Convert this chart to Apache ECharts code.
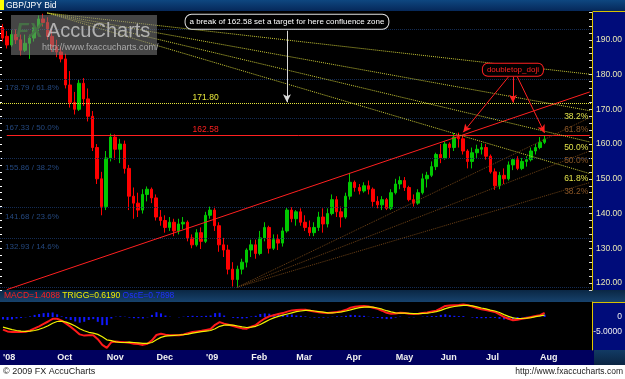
<!DOCTYPE html>
<html>
<head>
<meta charset="utf-8">
<title>GBP/JPY Bid</title>
<script src="https://cdn.jsdelivr.net/npm/echarts@6/dist/echarts.min.js"></script>
<style>
    html, body { margin: 0; padding: 0; background: #000; }
    #main { width: 625px; height: 379px; }
</style>
</head>
<body>
<div id="main"></div>
<script type="text/javascript">
// two-day candles, [open, close, low, high]
var candles = [
    [193.5,190.5,189.5,194.5],[191,188.5,187.5,192.5],[188.5,191.5,188,192.8],[191.5,190,188.8,193],[190,187,185.5,191.5],
    [187,189,186.5,191.5],[189,190.5,184.5,191.5],[190.5,193.5,189.5,194.5],[193.5,196,192.5,197],[196,195,193.8,197.5],
    [195,191,190,196.5],[191,188,186.5,193],[188,186.5,185,190],[186.5,184.5,183.5,188],[184.5,177,176,186],
    [177,172,170.5,181],[172,170,168.5,175],[170,177.5,169.5,178.5],[177.5,173,171,179],[173,168,166.5,176],
    [168,159,158,169.5],[159,150,148.5,160],[150,142,139.5,152],[142,156,141,158],[156,162,155,163],
    [162,158.5,155.5,162.8],[158.5,160,154.5,161.5],[160,153,151.5,161],[153,145,141,154],[145,143,138.5,147.5],
    [143,141,139,146],[141,145.5,140,147],[145.5,147,143.5,147.8],[147,144.5,143,147.5],[144.5,139,138,145.5],
    [139,138,136.5,141],[138,136,134.5,139.5],[136,137.5,135,139],[137.5,135,133.5,138.5],[135,137,134,138.5],
    [137,137.5,135.5,139],[137.5,133,132,138],[133,131,130,134],[131,134.5,130.5,135.5],[134.5,132,129.8,136],
    [132,139.5,131.5,140.5],[139.5,141,138.5,142],[141,136.5,135,142],[136.5,131,129,137.5],[131,129.5,127.5,133],
    [129.5,124,122.5,131],[124,121,119,126],[121,124,118.8,125],[124,126,122.5,127],[126,129.5,124.5,130],
    [129.5,131,127.5,132.5],[131,128.5,127,132.5],[128.5,133,128,135],[133,136,132,137.5],[136,130,128.5,136.5],
    [130,132.5,129.5,134],[132.5,131.5,129.5,134],[131.5,135,130.5,136],[135,141,134.5,141.7],[141,138.5,137.5,141.8],
    [138.5,140.5,136.5,141],[140.5,137.5,136.5,141.5],[137.5,136,135,139.5],[136,134.5,133.5,138],[134.5,136,133.5,137.5],
    [136,139,135,140.5],[139,137,134.5,141.5],[137,140,136,141.5],[140,144,139.5,145.5],[144,140.5,139,145],
    [140.5,139,136,142],[139,145,138.5,146],[145,149,144,151.7],[149,147.5,146.3,149.5],[147.5,146.5,145.5,148.5],
    [146.5,148,146,149],[148,147,145.5,149.5],[147,143.5,142,147.5],[143.5,142.5,141.5,145],[142.5,144,141,145],
    [144,141.5,141,144.5],[141.5,146,141,147],[146,148.5,145.5,150],[148.5,149.5,147,150.7],[149.5,147.5,146.5,150.5],
    [147.5,144,143.5,148],[144,143,142,145.5],[143,146,142.5,147],[146,150,145.5,151.5],[150,151,147.5,152],
    [151,153.5,150.5,155],[153.5,157,152.5,157.5],[157,156,154.5,160],[156,160,155.5,160.7],[160,159,156,160.5],
    [159,162,158,163.2],[162,161.5,159,163.3],[161.5,158,157,162.5],[158,155,153,158.5],[155,157.5,153,159],
    [157.5,158.5,156,159.8],[158.5,159,157,160.3],[159,156.5,155.5,160],[156.5,152,151.5,157],[152,148,146.8,153],
    [148,151,147,152],[151,150,148.5,153],[150,154,149.5,155],[154,155.5,152.5,156],[155.5,153,152.5,156.5],
    [153,155,152.5,156],[155,155.5,153.5,156.5],[155.5,158,155,159],[158,159,157,160],[159,160.5,158.5,162],
    [160.5,161.4,160,162.6]
];

var macd = [
    -4.2,-4.8,-5.0,-5.0,-5.0,-4.9,-4.5,-3.8,-3.1,-2.3,
    -1.5,-0.6,-0.6,-1.2,-2.2,-3.3,-4.5,-5.8,-6.2,-6.1,
    -6.1,-7.4,-9.3,-10.3,-8.4,-8.2,-8.3,-8.4,-8.6,-8.9,
    -9.0,-9.3,-8.9,-7.8,-6.0,-5.6,-5.9,-6.1,-6.1,-6.1,
    -5.8,-5.4,-5.0,-4.8,-4.6,-4.3,-4.0,-2.6,-1.7,-2.2,
    -2.6,-3.0,-3.4,-3.8,-3.9,-3.2,-2.7,-1.5,-0.5,0.2,
    0.6,1.0,1.3,1.8,2.2,2.3,2.4,2.4,2.1,1.8,
    1.6,1.4,1.3,1.5,1.7,1.9,2.4,3.1,3.4,3.6,
    3.7,3.5,3.1,2.7,2.1,1.4,1.1,1.2,1.4,1.3,
    1.1,1.0,1.1,1.3,1.5,1.8,2.1,2.9,3.7,3.8,
    3.9,4.0,4.2,3.9,3.5,3.0,2.6,2.3,2.0,1.7,
    0.9,0.0,-0.6,-1.1,-0.9,-0.6,-0.3,0.0,0.3,0.6,
    1.4
];

var trigg = [
    -3.4,-3.8,-4.2,-4.5,-4.7,-4.8,-4.7,-4.5,-4.1,-3.6,
    -2.9,-2.1,-1.5,-1.4,-1.7,-2.3,-3.0,-3.9,-4.6,-5.1,
    -5.4,-5.8,-6.6,-7.6,-7.9,-8.3,-8.5,-8.5,-8.4,-8.5,
    -8.6,-8.8,-8.8,-8.5,-7.6,-6.8,-6.4,-6.2,-6.1,-6.0,
    -5.9,-5.7,-5.4,-5.1,-4.9,-4.7,-4.5,-3.9,-3.1,-2.7,
    -2.6,-2.7,-3.0,-3.3,-3.5,-3.4,-3.1,-2.5,-1.7,-0.9,
    -0.3,0.2,0.6,1.0,1.4,1.8,2.0,2.2,2.2,2.0,
    1.8,1.6,1.4,1.4,1.5,1.7,2.0,2.4,2.8,3.1,
    3.3,3.4,3.3,3.0,2.6,2.1,1.7,1.4,1.3,1.3,
    1.2,1.1,1.1,1.2,1.3,1.5,1.8,2.2,2.8,3.2,
    3.5,3.7,3.9,3.9,3.7,3.4,3.0,2.7,2.3,2.0,
    1.5,0.8,0.2,-0.3,-0.5,-0.5,-0.4,-0.2,0.1,0.4,
    0.6
];

var oscE = [
    -0.8,-1.0,-0.8,-0.5,-0.3,-0.1,0.2,0.7,1.0,1.3,
    1.4,1.5,0.9,0.2,-0.5,-1.0,-1.5,-1.9,-1.6,-1.0,
    -0.7,-1.6,-2.7,-2.7,-0.5,0.1,0.2,0.1,-0.2,-0.4,
    -0.4,-0.5,-0.1,0.7,1.6,1.2,0.5,0.1,0.0,-0.1,
    0.1,0.3,0.4,0.3,0.3,0.4,0.5,1.3,1.4,0.5,
    0.0,-0.3,-0.4,-0.5,-0.4,0.2,0.4,1.0,1.2,1.1,
    0.9,0.8,0.7,0.8,0.8,0.5,0.4,0.2,-0.1,-0.2,
    -0.2,-0.2,-0.1,0.1,0.2,0.2,0.4,0.7,0.6,0.5,
    0.4,0.1,-0.2,-0.3,-0.5,-0.7,-0.6,-0.2,0.1,0.0,
    -0.1,-0.1,0.0,0.1,0.2,0.3,0.3,0.7,0.9,0.6,
    0.4,0.3,0.3,0.0,-0.2,-0.4,-0.4,-0.4,-0.3,-0.3,
    -0.6,-0.8,-0.8,-0.8,-0.4,-0.1,0.1,0.2,0.2,0.2,
    0.8
];

var monthIdx = [0, 12, 23, 34, 45, 55, 65, 76, 87, 97, 107, 119];
var monthLabels = ["'08", 'Oct', 'Nov', 'Dec', "'09", 'Feb', 'Mar', 'Apr', 'May', 'Jun', 'Jul', 'Aug'];
var priceTicks = [120, 130, 140, 150, 160, 170, 180, 190];
var macdTicks = [0, -5];

// fibonacci retracement of the 118.80 low
var fibLevels = [118.8, 132.93, 141.68, 155.86, 167.33, 178.79, 193.0];
var fibNames = ['', '14.6%', '23.6%', '38.2%', '50.0%', '61.8%', ''];

var lastPrice = 161.40;
var slotCount = 131;

var slots = [];
for (var i = 0; i < slotCount; i++) slots.push(String(i));
var minorTicks = [];
for (var t = 118; t <= 198; t += 2) minorTicks.push(t);

var FONT = 'Liberation Sans, Arial, sans-serif';

function seg(a, b, color, type, arrow) {
    return [
        {coord: a, symbol: 'none', lineStyle: {color: color, type: type, width: 1}},
        {coord: b, symbol: arrow ? 'arrow' : 'none', symbolSize: arrow ? [6, 8] : 0}
    ];
}

function note(coord, text, color, extra) {
    var label = {show: true, formatter: text, color: color, fontSize: 8.5, position: 'inside'};
    for (var k in extra) label[k] = extra[k];
    return {coord: coord, symbolSize: 0, label: label};
}

var YEL = '#c8c836', BRN = '#6e4216', RED = '#ff2020', FIB = '#142c55';

var lines = [];
fibLevels.forEach(function (v, i) {
    lines.push({
        yAxis: v,
        lineStyle: {color: FIB, type: 'dotted', width: 1},
        label: {
            show: fibNames[i] !== '', position: 'insideStartBottom', color: '#24487f', fontSize: 8,
            formatter: v.toFixed(2) + ' / ' + fibNames[i]
        }
    });
});
lines.push({yAxis: 171.80, lineStyle: {color: '#e8e83c', type: 'dotted', width: 1}});
lines.push(seg([1, 162.58], [130, 162.58], RED, 'solid'));
lines.push(seg([1, 118.1], [130, 175.0], RED, 'solid'));
// fan from the September top
[180.1, 169.6, 160.6, 151.5].forEach(function (p) {
    lines.push(seg([10, 197.7], [130, p], YEL, 'dotted'));
});
// fan from the January low
[167.6, 158.0, 148.9].forEach(function (p) {
    lines.push(seg([52, 118.8], [130, p], BRN, 'dotted'));
});
// annotation arrows
lines.push(seg([63, 192.6], [63, 172.0], '#d8d8d8', 'solid', true));
lines.push(seg([112, 179.3], [102, 163.4], RED, 'solid', true));
lines.push(seg([113, 179.3], [113, 171.9], RED, 'solid', true));
lines.push(seg([114, 179.3], [120, 163.2], RED, 'solid', true));
lines.push({
    yAxis: lastPrice,
    lineStyle: {opacity: 0},
    label: {
        show: true, position: 'end', distance: 2, formatter: '161.40',
        backgroundColor: '#ffff00', color: '#000050', fontSize: 8.5, padding: [1, 2]
    }
});

var notes = [
    note([45, 171.8], '171.80', '#e8e83c', {position: 'top', distance: 1}),
    note([45, 162.58], '162.58', RED, {position: 'top', distance: 1}),
    note([127, 167.8], '38.2%', '#e2e24a', {}),
    note([127, 158.9], '50.0%', '#e2e24a', {}),
    note([127, 150.0], '61.8%', '#e2e24a', {}),
    note([127, 164.1], '61.8%', '#8a5626', {}),
    note([127, 155.2], '50.0%', '#8a5626', {}),
    note([127, 146.3], '38.2%', '#8a5626', {}),
    note([113, 181.4], 'doubletop_doji', RED, {
        backgroundColor: '#000', borderColor: RED, borderWidth: 1, borderRadius: 5, padding: [2, 4], fontSize: 8
    }),
    note([63, 195.2], 'a break of 162.58 set a target for here confluence zone', '#ffffff', {
        backgroundColor: '#000', borderColor: '#e0e0e0', borderWidth: 1, borderRadius: 6, padding: [3, 4], fontSize: 8
    })
];

function grad(a, b) {
    return new echarts.graphic.LinearGradient(0, 0, 0, 1, [{offset: 0, color: a}, {offset: 1, color: b}]);
}

var myChart = echarts.init(document.getElementById('main'));

var option = {
    animation: false,
    backgroundColor: '#000',
    textStyle: {fontFamily: FONT},
    grid: [
        {left: 0, top: 12, width: 592, height: 278},
        {left: 0, top: 302, width: 592, height: 48}
    ],
    xAxis: [
        {
            type: 'category', gridIndex: 0, data: slots, boundaryGap: true,
            axisLine: {show: false}, axisTick: {show: false}, axisLabel: {show: false}, splitLine: {show: false}
        },
        {
            type: 'category', gridIndex: 1, data: slots, boundaryGap: true,
            axisLine: {show: false}, axisTick: {show: false}, splitLine: {show: false},
            axisLabel: {
                show: true, color: '#f0f0f0', fontSize: 9, fontWeight: 'bold', margin: 3, align: 'left',
                interval: function (index) { return monthIdx.indexOf(index) >= 0; },
                formatter: function (value) { return monthLabels[monthIdx.indexOf(+value)] || ''; }
            }
        }
    ],
    yAxis: [
        {
            type: 'value', gridIndex: 0, position: 'right', min: 118, max: 198,
            splitLine: {show: false},
            axisLine: {show: true, lineStyle: {color: '#e0c800'}},
            axisTick: {show: true, inside: true, length: 3, customValues: minorTicks, lineStyle: {color: '#d8d8d8'}},
            axisLabel: {
                show: true, customValues: priceTicks, align: 'right', margin: 30, color: '#e8e8b4', fontSize: 8.5,
                formatter: function (v) { return v.toFixed(2); }
            }
        },
        {
            type: 'value', gridIndex: 0, position: 'left', min: 118, max: 198,
            splitLine: {show: false}, axisLine: {show: false}, axisLabel: {show: false},
            axisTick: {show: true, inside: true, length: 2, customValues: minorTicks, lineStyle: {color: '#ffffff'}}
        },
        {
            type: 'value', gridIndex: 1, position: 'right', min: -11, max: 5,
            splitLine: {show: false},
            axisLine: {show: true, lineStyle: {color: '#e0c800'}},
            axisTick: {show: false},
            axisLabel: {
                show: true, customValues: macdTicks, align: 'right', margin: 30, color: '#f0f0f0', fontSize: 8.5,
                formatter: function (v) { return v === 0 ? '0' : v.toFixed(4); }
            }
        }
    ],
    series: [
        {
            name: 'GBP/JPY',
            type: 'candlestick',
            xAxisIndex: 0,
            yAxisIndex: 0,
            barWidth: 3,
            data: candles,
            itemStyle: {
                color: '#00c800', color0: '#ff0000',
                borderColor: '#00c800', borderColor0: '#ff0000', borderWidth: 1
            },
            markLine: {
                silent: true,
                symbol: ['none', 'none'],
                label: {show: false},
                data: lines
            },
            markPoint: {
                silent: true,
                symbolSize: 0,
                data: notes
            }
        },
        {
            name: 'OscE',
            type: 'bar',
            xAxisIndex: 1,
            yAxisIndex: 2,
            barWidth: 2,
            data: oscE,
            itemStyle: {color: '#1018ff'}
        },
        {
            name: 'MACD',
            type: 'line',
            xAxisIndex: 1,
            yAxisIndex: 2,
            showSymbol: false,
            data: macd,
            lineStyle: {color: '#ff1a1a', width: 2}
        },
        {
            name: 'TRIGG',
            type: 'line',
            xAxisIndex: 1,
            yAxisIndex: 2,
            showSymbol: false,
            data: trigg,
            lineStyle: {color: '#f0f000', width: 1.2}
        }
    ],
    graphic: {
        elements: [
            // title bar
            {type: 'rect', z: -5, shape: {x: 0, y: 0, width: 625, height: 11}, style: {fill: grad('#0e4780', '#06285a')}},
            {type: 'rect', z: -4, shape: {x: 0, y: 0, width: 4, height: 10}, style: {fill: '#ffff00'}},
            {type: 'text', z: 10, style: {text: 'GBP/JPY Bid', x: 6, y: 5.5, verticalAlign: 'middle', fill: '#ffffff', font: '8.5px ' + FONT}},
            // right price panel
            {type: 'rect', z: -5, shape: {x: 593, y: 11, width: 32, height: 279}, style: {fill: '#000c7a'}},
            {type: 'line', z: -4, shape: {x1: 593, y1: 11.5, x2: 625, y2: 11.5}, style: {stroke: '#d8c000', lineWidth: 1}},
            // MACD header
            {type: 'rect', z: -5, shape: {x: 0, y: 290, width: 625, height: 12}, style: {fill: grad('#0a2744', '#17426c')}},
            {
                type: 'text', z: 10,
                style: {
                    text: '{r|MACD=1.4088} {y|TRIGG=0.6190} {b|OscE=0.7898}', x: 4, y: 296, verticalAlign: 'middle',
                    font: '8.5px ' + FONT,
                    rich: {
                        r: {fill: '#ff2020', fontSize: 8.5, fontFamily: FONT},
                        y: {fill: '#f0f000', fontSize: 8.5, fontFamily: FONT},
                        b: {fill: '#2030ff', fontSize: 8.5, fontFamily: FONT}
                    }
                }
            },
            // MACD value panel
            {type: 'rect', z: -5, shape: {x: 593, y: 302, width: 32, height: 48}, style: {fill: '#000c7a'}},
            {type: 'line', z: -4, shape: {x1: 593, y1: 302.5, x2: 625, y2: 302.5}, style: {stroke: '#d8c000', lineWidth: 1}},
            // date band
            {type: 'rect', z: -5, shape: {x: 0, y: 350, width: 594, height: 15}, style: {fill: '#00005e'}},
            {type: 'rect', z: -5, shape: {x: 594, y: 350, width: 31, height: 15}, style: {fill: grad('#123a64', '#0a2442')}},
            // footer
            {type: 'rect', z: -5, shape: {x: 0, y: 365, width: 625, height: 14}, style: {fill: '#ffffff'}},
            {type: 'text', z: 10, style: {text: '\u00a9 2009 FX AccuCharts', x: 3, y: 372, verticalAlign: 'middle', fill: '#222', font: '9px ' + FONT}},
            {type: 'text', z: 10, style: {text: 'http://www.fxaccucharts.com', x: 623, y: 372, align: 'right', verticalAlign: 'middle', fill: '#222', font: '8.5px ' + FONT}},
            // watermark
            {type: 'rect', z: 50, shape: {x: 11, y: 15, width: 146, height: 40}, style: {fill: 'rgba(125,125,125,0.55)'}},
            {type: 'text', z: 51, style: {text: 'FX', x: 16, y: 31, verticalAlign: 'middle', fill: 'rgba(70,115,70,0.9)', font: 'italic bold 21px ' + FONT}},
            {type: 'text', z: 51, style: {text: 'AccuCharts', x: 47, y: 31, verticalAlign: 'middle', fill: 'rgba(195,195,195,0.85)', font: '20px ' + FONT}},
            {type: 'text', z: 51, style: {text: 'http://www.fxaccucharts.com/', x: 42, y: 48, verticalAlign: 'middle', fill: 'rgba(175,175,175,0.95)', font: '9px ' + FONT}}
        ]
    }
};

myChart.setOption(option);
</script>
</body>
</html>
